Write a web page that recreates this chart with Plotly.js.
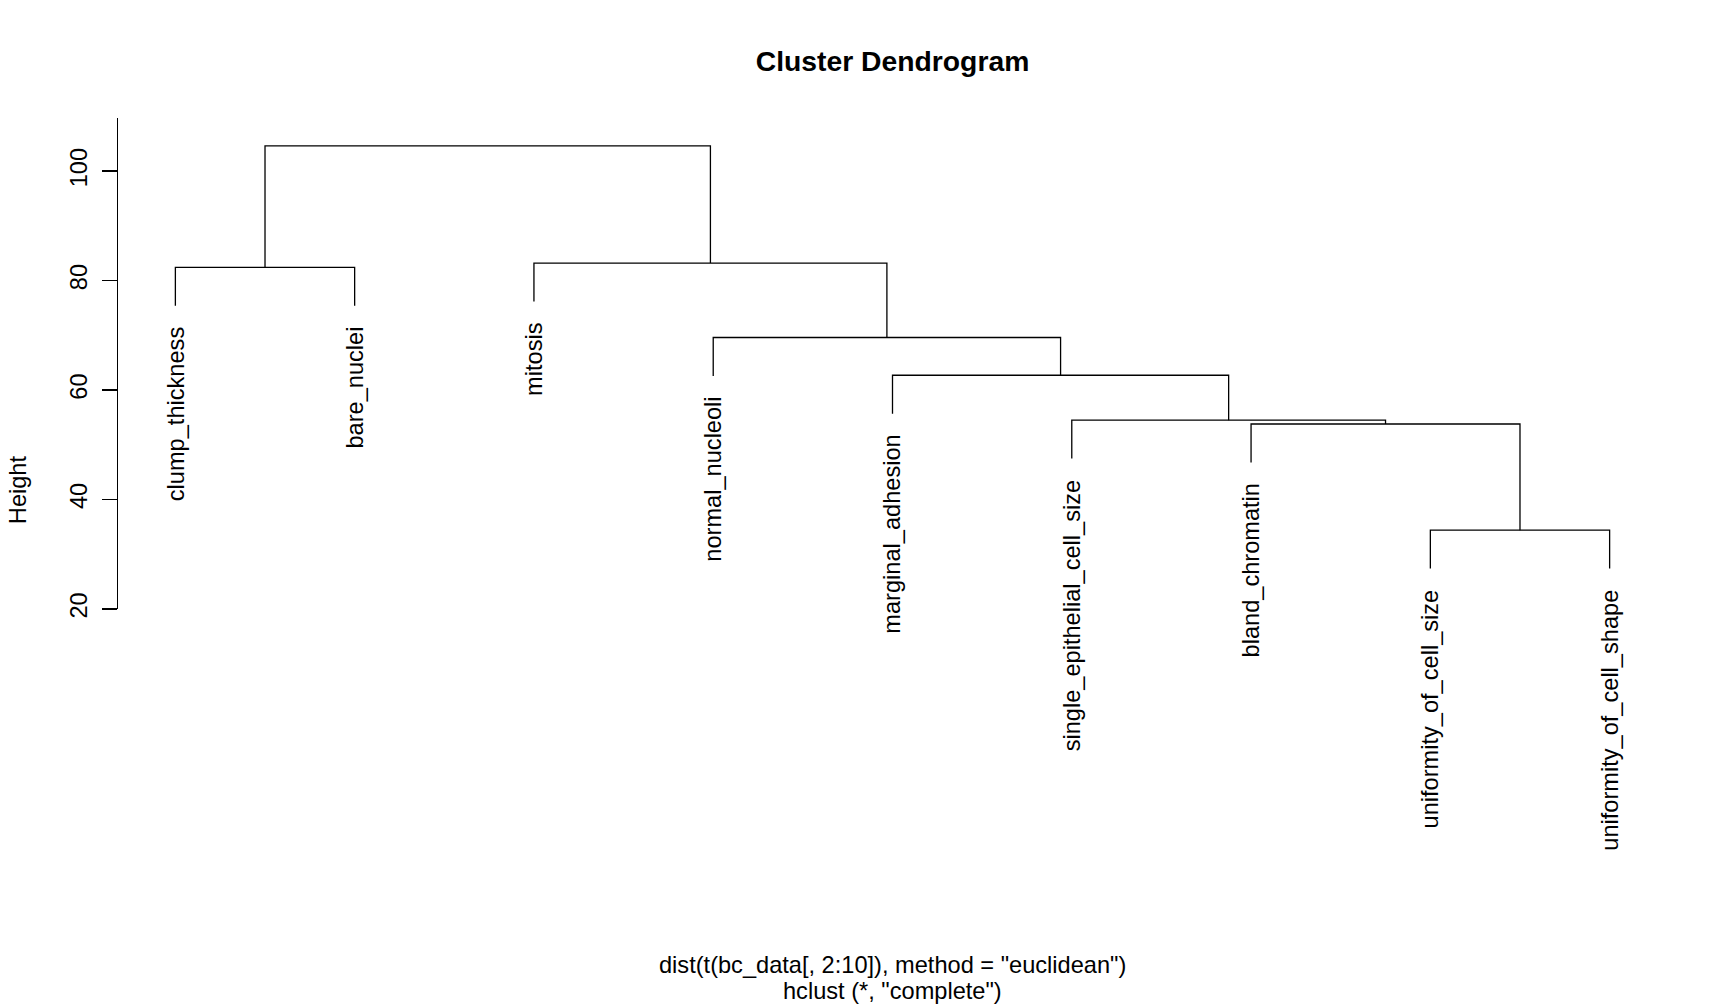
<!DOCTYPE html>
<html>
<head>
<meta charset="utf-8">
<script src="https://cdn.plot.ly/plotly-3.0.1.min.js"></script>
<style>
  html, body { margin: 0; padding: 0; background: #fff; }
  #dendro { width: 1728px; height: 1008px; }
</style>
</head>
<body>
<div id="dendro"></div>
<script>
// Leaves in the order the dendrogram draws them (left to right)
const leafLabels = [
  'clump_thickness', 'bare_nuclei', 'mitosis', 'normal_nucleoli',
  'marginal_adhesion', 'single_epithelial_cell_size', 'bland_chromatin',
  'uniformity_of_cell_size', 'uniformity_of_cell_shape'
];

// hclust-style merge table: negative = leaf (1-based, display order), positive = earlier merge
const mergeLeft  = [-8, -7, -6, -5, -4, -1, -3, 6];
const mergeRight = [-9,  1,  2,  3,  4, -2,  5, 7];
const mergeHeight = [34.4, 53.8, 54.5, 62.7, 69.6, 82.4, 83.2, 104.6];

const heightTicks = [20, 40, 60, 80, 100];

const mainTitle = 'Cluster Dendrogram';
const subLine1 = 'dist(t(bc_data[, 2:10]), method = "euclidean")';
const subLine2 = 'hclust (*, "complete")';

const FONT = '"Liberation Sans", Arial, Helvetica, sans-serif';
const BASE = 23.6;

// hang = 0.1 of the height range, as in plot.hclust
const hang = 0.1 * (Math.max(...mergeHeight) - Math.min(...mergeHeight));

function buildDendro() {
  const nodeX = [];
  const leafEnd = new Array(leafLabels.length).fill(null);
  const xs = [], ys = [];

  const side = (ref, h) => {
    if (ref < 0) {
      const y = h - hang;
      leafEnd[-ref - 1] = y;
      return { x: -ref, y };
    }
    return { x: nodeX[ref - 1], y: mergeHeight[ref - 1] };
  };

  for (let i = 0; i < mergeHeight.length; i++) {
    const h = mergeHeight[i];
    const a = side(mergeLeft[i], h);
    const b = side(mergeRight[i], h);
    xs.push(a.x, a.x, b.x, b.x, null);
    ys.push(a.y, h, h, b.y, null);
    nodeX[i] = (a.x + b.x) / 2;
  }
  return { xs, ys, leafEnd };
}

const d = buildDendro();

const traces = [{
  type: 'scatter', mode: 'lines',
  x: d.xs, y: d.ys,
  line: { color: '#000', width: 1.3 },
  hoverinfo: 'skip', showlegend: false
}];

const annotations = leafLabels.map((lab, i) => ({
  x: i + 1, y: d.leafEnd[i], xref: 'x', yref: 'y',
  text: lab, textangle: -90, showarrow: false,
  xanchor: 'center', yanchor: 'top', yshift: -19,
  font: { family: FONT, size: BASE, color: '#000' }
}));

annotations.push(
  { x: -0.0649, y: 0.243, xref: 'paper', yref: 'paper', text: 'Height',
    textangle: -90, showarrow: false, xanchor: 'center', yanchor: 'middle',
    font: { family: FONT, size: BASE, color: '#000' } },
  { x: 0.5, y: -0.725, xref: 'paper', yref: 'paper', text: subLine1,
    showarrow: false, xanchor: 'center', yanchor: 'middle',
    font: { family: FONT, size: BASE, color: '#000' } },
  { x: 0.5, y: -0.778, xref: 'paper', yref: 'paper', text: subLine2,
    showarrow: false, xanchor: 'center', yanchor: 'middle',
    font: { family: FONT, size: BASE, color: '#000' } }
);

const layout = {
  width: 1728, height: 1008,
  paper_bgcolor: '#fff', plot_bgcolor: '#fff',
  font: { family: FONT, size: BASE, color: '#000' },
  margin: { l: 118, r: 60.6, t: 117.7, b: 398.5 },
  title: {
    text: mainTitle,
    x: 0.5, xref: 'paper', xanchor: 'center',
    y: 1 - 61 / 1008, yanchor: 'middle',
    font: { family: FONT, size: 28.3, weight: 'bold', color: '#000' }
  },
  xaxis: {
    range: [0.68, leafLabels.length + 0.32],
    visible: false, fixedrange: true
  },
  yaxis: {
    range: [20, 109.7],
    tickvals: heightTicks, ticktext: heightTicks.map(String),
    showline: true, linecolor: '#000', linewidth: 1.3,
    ticks: 'outside', ticklen: 15, tickwidth: 1.3, tickcolor: '#000',
    tickangle: -90, ticklabelstandoff: 5,
    tickfont: { family: FONT, size: BASE, color: '#000' },
    showgrid: false, zeroline: false, fixedrange: true
  },
  showlegend: false,
  annotations
};

Plotly.newPlot('dendro', traces, layout, { displayModeBar: false, staticPlot: true });
</script>
</body>
</html>
